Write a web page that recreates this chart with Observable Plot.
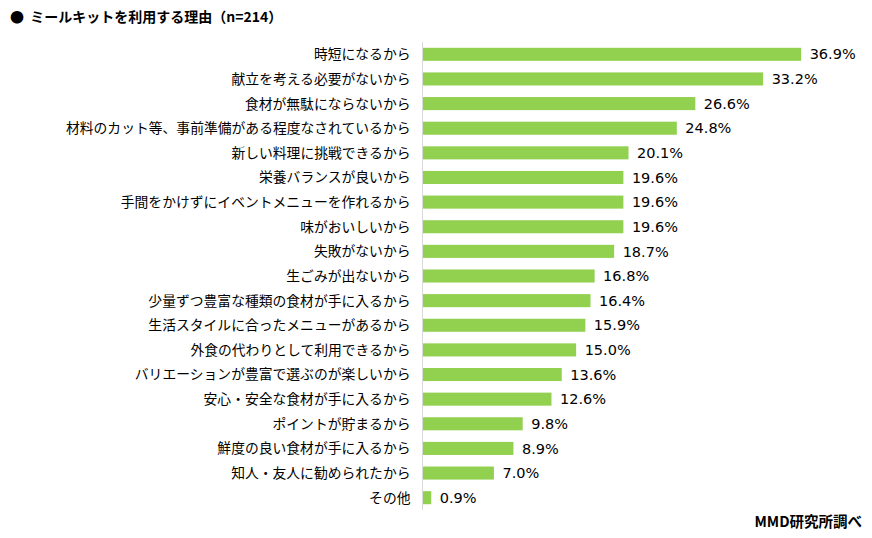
<!DOCTYPE html>
<html><head><meta charset="utf-8">
<script src="https://cdn.jsdelivr.net/npm/d3@7"></script>
<script src="https://cdn.jsdelivr.net/npm/@observablehq/plot@0.6"></script>
<style>
body{margin:0;background:#fff;font-family:"Noto Sans CJK JP","Noto Sans",sans-serif;}
#wrap{position:relative;width:872px;height:538px;}
#title{position:absolute;left:10px;top:6px;font-size:14px;font-weight:bold;color:#000;}
#chart{position:absolute;left:0;top:40px;}
#cap{position:absolute;right:10px;top:510px;font-size:14.5px;font-weight:bold;color:#000;}
</style></head>
<body><div id="wrap">
<div id="title">●&nbsp;&nbsp;ミールキットを利用する理由（n=214）</div>
<div id="chart"></div>
<div id="cap">MMD研究所調べ</div>
</div>
<script>
const reasons = ["時短になるから","献立を考える必要がないから","食材が無駄にならないから","材料のカット等、事前準備がある程度なされているから","新しい料理に挑戦できるから","栄養バランスが良いから","手間をかけずにイベントメニューを作れるから","味がおいしいから","失敗がないから","生ごみが出ないから","少量ずつ豊富な種類の食材が手に入るから","生活スタイルに合ったメニューがあるから","外食の代わりとして利用できるから","バリエーションが豊富で選ぶのが楽しいから","安心・安全な食材が手に入るから","ポイントが貯まるから","鮮度の良い食材が手に入るから","知人・友人に勧められたから","その他"];
const values = [36.9,33.2,26.6,24.8,20.1,19.6,19.6,19.6,18.7,16.8,16.4,15.9,15.0,13.6,12.6,9.8,8.9,7.0,0.9];
const data = reasons.map((r,i)=>({reason:r, value:values[i]}));
const chart = Plot.plot({
  width:872, height:474,
  marginLeft:422, marginRight:39, marginTop:2, marginBottom:4,
  style:{fontFamily:'"Noto Sans CJK JP","Noto Sans",sans-serif', background:"#fff"},
  x:{domain:[0,40], axis:null},
  y:{domain:reasons, paddingInner:0.47, paddingOuter:0.235, round:false, label:null},
  marks:[
    Plot.barX(data,{y:"reason", x:"value", fill:"#92D050"}),
    Plot.ruleX([0],{stroke:"#d9d9d9", strokeWidth:1}),
    Plot.axisY({tickSize:0, tickPadding:12, fontSize:13.8, fill:"#000", label:null}),
    Plot.text(data,{y:"reason", x:"value", text:d=>d.value.toFixed(1)+"%", textAnchor:"start", dx:8, fontSize:14.5, fontFamily:'"DejaVu Sans",sans-serif', fill:"#000"})
  ]
});
document.getElementById("chart").appendChild(chart);
</script>
</body></html>
